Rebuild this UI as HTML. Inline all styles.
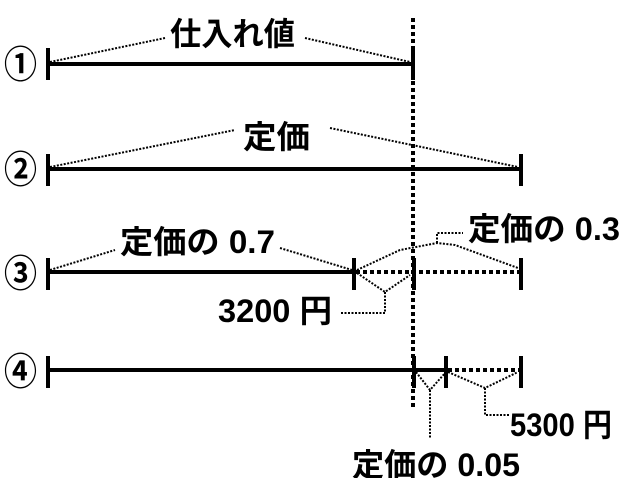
<!DOCTYPE html>
<html><head><meta charset="utf-8"><style>
body{margin:0;background:#fff;}
svg text{font-family:"Liberation Sans","Noto Sans CJK JP",sans-serif;font-weight:bold;fill:#000;}
</style></head><body>
<svg width="628" height="478" viewBox="0 0 628 478" xmlns="http://www.w3.org/2000/svg">
<g stroke="#000" stroke-width="4" fill="none">
<line x1="48" y1="48" x2="48" y2="80"/><line x1="413" y1="48" x2="413" y2="80"/>
<line x1="48" y1="64" x2="413" y2="64"/>
<line x1="48" y1="154" x2="48" y2="186"/><line x1="521" y1="154" x2="521" y2="186"/>
<line x1="48" y1="169" x2="521" y2="169"/>
<line x1="48" y1="258" x2="48" y2="290"/><line x1="354" y1="258" x2="354" y2="290"/><line x1="414" y1="258" x2="414" y2="290"/><line x1="521" y1="258" x2="521" y2="290"/>
<line x1="48" y1="272" x2="354" y2="272"/>
<line x1="48" y1="356" x2="48" y2="388"/><line x1="446" y1="356" x2="446" y2="388"/><line x1="521" y1="356" x2="521" y2="388"/><line x1="414" y1="356" x2="414" y2="388"/>
<line x1="48" y1="370" x2="446" y2="370"/>
</g>
<g stroke="#000" stroke-width="4" stroke-dasharray="4 3" fill="none">
<line x1="413" y1="18" x2="413" y2="408"/>
<line x1="356" y1="272" x2="521" y2="272"/>
<line x1="448" y1="370" x2="521" y2="370"/>
</g>
<g stroke="#000" stroke-width="2" stroke-dasharray="2 1.5" fill="none">
<polyline points="50,62 165,38"/><polyline points="305,38 410,62"/>
<polyline points="50,167 235,130"/><polyline points="330,128 518,167"/>
<polyline points="50,270 115,250"/><polyline points="280,248 352,270"/>
<polyline points="357,270 400,250 437,243 455,245 518,268"/>
<polyline points="437,243 437,233 463,233"/>
<polyline points="357,273 385,292 410,275"/>
<polyline points="385,292 385,313 340,313"/>
<polyline points="416,372 430,390 446,372"/>
<polyline points="430,390 430,438"/>
<polyline points="448,372 485,388 518,372"/>
<polyline points="485,388 485,415 510,415"/>
</g>
<g font-size="38" font-weight="normal">
<text x="4" y="78" textLength="33" lengthAdjust="spacingAndGlyphs">①</text>
<text x="4" y="183" textLength="33" lengthAdjust="spacingAndGlyphs">②</text>
<text x="4" y="287" textLength="33" lengthAdjust="spacingAndGlyphs">③</text>
<text x="4" y="385" textLength="33" lengthAdjust="spacingAndGlyphs">④</text>
</g>
<g font-size="32">
<text x="170" y="45" textLength="125" lengthAdjust="spacingAndGlyphs">仕入れ値</text>
<text x="243" y="148" textLength="67" lengthAdjust="spacingAndGlyphs">定価</text>
<text x="120" y="253" textLength="155" lengthAdjust="spacingAndGlyphs">定価の 0.7</text>
<text x="468" y="240" textLength="152" lengthAdjust="spacingAndGlyphs">定価の 0.3</text>
<text x="218" y="322" textLength="114" lengthAdjust="spacingAndGlyphs">3200 円</text>
<text x="510" y="436" textLength="102" lengthAdjust="spacingAndGlyphs">5300 円</text>
<text x="352" y="476" textLength="168" lengthAdjust="spacingAndGlyphs">定価の 0.05</text>
</g>
</svg>
</body></html>
